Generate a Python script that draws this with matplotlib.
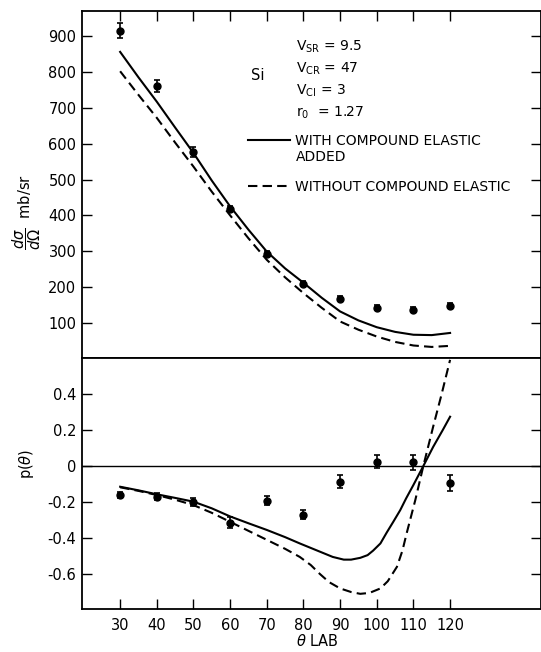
import matplotlib
matplotlib.use("Agg")
import matplotlib.pyplot as plt
import numpy as np

# angoli misurati (gradi, lab)
theta = [30, 40, 50, 60, 70, 80, 90, 100, 110, 120]

# sezione d'urto differenziale, mb/sr
sigma     = [915, 761, 576, 418, 293, 209, 167, 142, 137, 148]
sigma_err = [21, 16, 14, 8, 7, 7, 7, 7, 7, 7]

# polarizzazione
pol     = [-0.16, -0.17, -0.20, -0.315, -0.193, -0.27, -0.087, 0.024, 0.02, -0.093]
pol_err = [0.015, 0.02, 0.02, 0.03, 0.025, 0.025, 0.035, 0.035, 0.04, 0.045]

# curve teoriche, sezione d'urto
th_sig       = [30, 35, 40, 45, 50, 55, 60, 65, 70, 75, 80, 85, 90, 95, 100, 105, 110, 115, 120]
sig_with     = [856, 785, 717, 645, 574, 497, 425, 360, 299, 252, 212, 170, 132, 107, 88, 75, 67, 66, 72]
sig_without  = [802, 736, 672, 603, 536, 466, 400, 336, 276, 227, 183, 142, 104, 81, 62, 47, 37, 33, 36]

# curve teoriche, polarizzazione
th_pw  = [30, 35, 40, 45, 50, 55, 60, 65, 70, 75, 79, 82, 85, 88, 91, 93, 95.5, 97.5, 99, 101,
          102.7, 104.5, 106.4, 108, 110, 112.7, 115.4, 118, 120]
pol_w  = [-0.115, -0.135, -0.157, -0.177, -0.198, -0.235, -0.28, -0.318, -0.355, -0.395, -0.43,
          -0.455, -0.48, -0.505, -0.52, -0.52, -0.51, -0.495, -0.47, -0.43, -0.37, -0.31, -0.245,
          -0.18, -0.105, 0.0, 0.107, 0.2, 0.274]
th_pwo = [30, 35, 40, 45, 50, 55, 60, 65, 70, 75, 79, 82, 84.5, 87, 90, 93, 95.5, 98, 101, 103,
          105.5, 107, 108.2, 110.5, 112.7, 115.4, 117.7, 120]
pol_wo = [-0.118, -0.138, -0.161, -0.187, -0.217, -0.26, -0.31, -0.36, -0.41, -0.46, -0.505,
          -0.55, -0.60, -0.645, -0.68, -0.70, -0.71, -0.705, -0.68, -0.64, -0.56, -0.47, -0.37,
          -0.19, 0.0, 0.22, 0.40, 0.59]

xticks   = [30, 40, 50, 60, 70, 80, 90, 100, 110, 120]
sticks   = [100, 200, 300, 400, 500, 600, 700, 800, 900]
pticks   = [-0.6, -0.4, -0.2, 0, 0.2, 0.4]
plabels  = ["-0.6", "-0.4", "-0.2", "0", "0.2", "0.4"]

plt.rcParams['font.family'] = ['DejaVu Sans']
fig = plt.figure(figsize=(5.41, 6.52), dpi=100)
ax0 = fig.add_axes([0.1516, 0.4514, 0.8484, 0.5317])
ax1 = fig.add_axes([0.1516, 0.0652, 0.8484, 0.3862])

dash = (0, (4.5, 2.5))

# pannello superiore
ax0.plot(th_sig, sig_with, color='black', lw=1.5, label='WITH COMPOUND ELASTIC')
ax0.plot(th_sig, sig_without, color='black', lw=1.5, ls=dash, label='WITHOUT COMPOUND ELASTIC')
ax0.errorbar(theta, sigma, yerr=sigma_err, fmt='o', color='black', ms=5, capsize=2.5, elinewidth=1.2, capthick=1.2)
ax0.set_xlim(19.6, 144.8)
ax0.set_ylim(3, 970)
ax0.set_yticks(sticks)
ax0.set_xticks(xticks)
ax0.tick_params(direction='in', length=7, width=1, top=True, right=True, bottom=False,
                labelbottom=False, labelsize=10.5, pad=4)

ax0.text(67.4, 791, 'Si', fontsize=10.5, ha='center', va='center')
params = [r'V$_{\mathrm{SR}}$ = 9.5', r'V$_{\mathrm{CR}}$ = 47', r'V$_{\mathrm{CI}}$ = 3', r'r$_0$  = 1.27']
for i, s in enumerate(params):
    ax0.text(78, 870 - i * 61, s, fontsize=10, ha='left', va='center')

leg = ax0.legend(loc='upper left', bbox_to_anchor=(0.362, 0.646), frameon=False, fontsize=10,
                 handlelength=3.0, handletextpad=0.4, labelspacing=2.3, borderpad=0, borderaxespad=0)
ax0.text(78, 562, 'ADDED', fontsize=10, ha='left', va='center')

# pannello inferiore
ax1.axhline(0, color='black', lw=1)
ax1.plot(th_pw, pol_w, color='black', lw=1.5)
ax1.plot(th_pwo, pol_wo, color='black', lw=1.5, ls=dash)
ax1.errorbar(theta, pol, yerr=pol_err, fmt='o', color='black', ms=5, capsize=2.5, elinewidth=1.2, capthick=1.2)
ax1.set_xlim(19.6, 144.8)
ax1.set_ylim(-0.797, 0.602)
ax1.set_yticks(pticks)
ax1.set_yticklabels(plabels)
ax1.set_xticks(xticks)
ax1.tick_params(direction='in', length=7, width=1, right=True, labelsize=10.5, pad=4)
ax1.tick_params(axis='x', pad=6)

for a in (ax0, ax1):
    for s in a.spines.values():
        s.set_linewidth(1.3)

# etichette assi
fig.text(27 / 541, 1 - 212 / 652, r'$\dfrac{d\sigma}{d\Omega}$  mb/sr', rotation=90, ha='center', va='center', fontsize=10.5)
fig.text(27 / 541, 1 - 464 / 652, r'p($\theta$)', rotation=90, ha='center', va='center', fontsize=10.5)
fig.text(317 / 541, 1 - 641 / 652, r'$\theta$ LAB', ha='center', va='center', fontsize=10.5)

fig.savefig('out.png', dpi=100)
